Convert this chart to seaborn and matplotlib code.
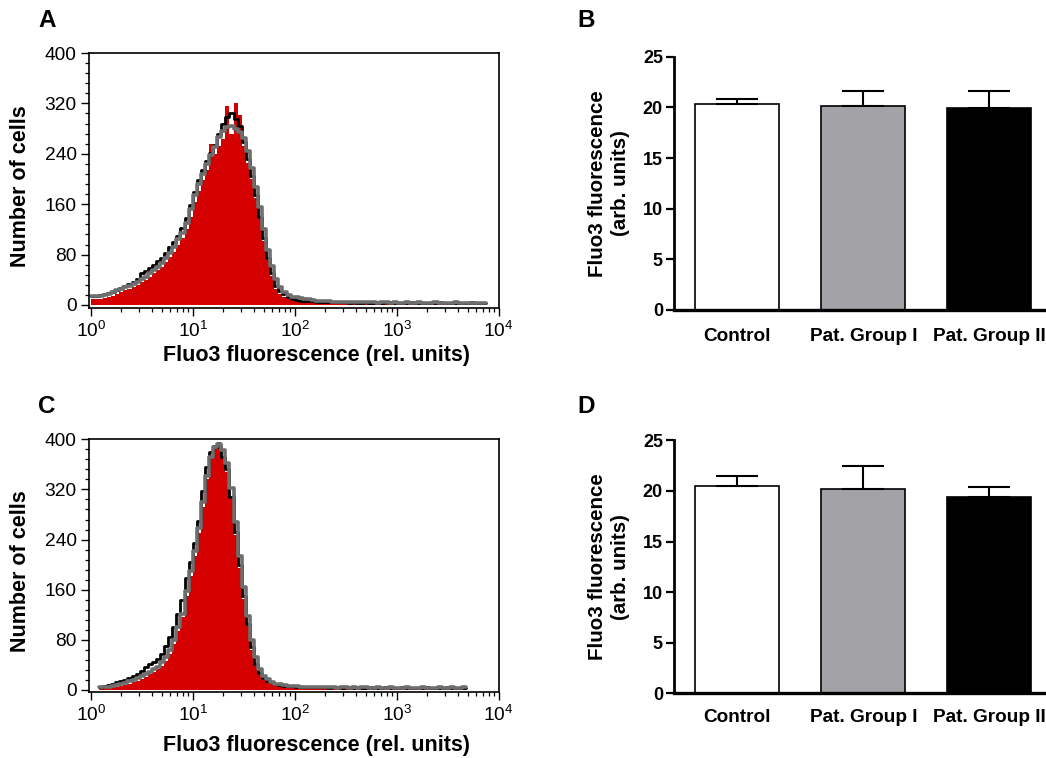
import numpy as np
import matplotlib
matplotlib.use("Agg")
import matplotlib.pyplot as plt
import seaborn as sns
from matplotlib.ticker import MultipleLocator, LogLocator, NullFormatter

# ---------------------------------------------------------------------------
# Flow-cytometry histograms (counts per log-spaced channel, 0.04 decade bins)
# ---------------------------------------------------------------------------
BIN_STEP = 0.04

# Panel A: first bin starts at 10^0
a_log_start = 0.0
a_red = [9, 9, 10, 11, 13, 15, 18, 20, 23, 25,
         28, 32, 36, 40, 45, 50, 55, 61, 68, 76,
         84, 95, 106, 120, 140, 163, 181, 198, 214, 256,
         240, 252, 264, 316, 272, 321, 302, 252, 226, 200,
         170, 136, 102, 71, 46, 26, 17, 12, 9, 7,
         6, 5, 5, 4, 4, 4, 3, 3, 3, 3,
         3, 3, 2, 3, 3, 2, 3, 3, 2, 3,
         3, 2, 3, 3, 3, 2, 3, 3, 3, 2,
         3, 3, 2, 3, 3, 3, 3, 2, 3, 3,
         3, 3, 2, 3, 3, 3, 3]
a_black = [15, 14, 16, 17, 19, 21, 24, 27, 30, 33,
           37, 42, 50, 54, 58, 64, 70, 74, 82, 92,
           100, 110, 122, 138, 158, 180, 198, 214, 228, 242,
           254, 272, 288, 298, 304, 296, 284, 258, 232, 205,
           175, 140, 106, 75, 50, 30, 22, 17, 13, 10,
           8, 7, 7, 6, 6, 5, 5, 5, 4, 4,
           4, 4, 4, 3, 4, 3, 3, 4, 3, 3,
           3, 3, 4, 3, 3, 3, 3, 3, 4, 3,
           3, 3, 3, 3, 3, 4, 3, 3, 3, 3,
           3, 3, 3, 4, 3, 3, 3]
a_gray = [14, 14, 15, 16, 18, 20, 23, 25, 28, 30,
          33, 37, 41, 45, 50, 55, 60, 66, 74, 83,
          92, 104, 115, 130, 152, 175, 192, 208, 224, 238,
          250, 266, 276, 283, 284, 280, 274, 265, 245, 218,
          188, 155, 120, 88, 62, 42, 28, 20, 16, 13,
          12, 11, 10, 9, 8, 7, 7, 6, 6, 5,
          5, 5, 5, 4, 4, 5, 4, 4, 4, 4,
          3, 4, 4, 3, 4, 3, 3, 4, 3, 3,
          4, 3, 3, 3, 4, 3, 3, 3, 3, 4,
          3, 3, 3, 3, 3, 3, 3]

# Panel C: first bin starts at 10^0.08
c_log_start = 0.08
c_red = [3, 3, 4, 4, 5, 6, 8, 10, 12, 15,
         18, 21, 25, 29, 33, 39, 47, 58, 74, 94,
         116, 150, 182, 214, 250, 292, 336, 370, 386, 396,
         372, 348, 304, 248, 195, 145, 102, 64, 38, 24,
         16, 12, 9, 7, 6, 5, 5, 4, 4, 4,
         3, 4, 3, 3, 3, 4, 3, 3, 3, 3,
         3, 3, 4, 3, 3, 3, 3, 3, 3, 4,
         3, 3, 3, 3, 3, 3, 4, 3, 3, 3,
         3, 3, 3, 3, 4, 3, 3, 3, 3, 3]
c_black = [5, 6, 8, 10, 12, 14, 16, 19, 22, 26,
           31, 37, 41, 45, 50, 58, 70, 84, 100, 122,
           143, 178, 205, 235, 270, 318, 356, 380, 390, 388,
           372, 352, 308, 252, 200, 150, 106, 69, 42, 27,
           19, 15, 12, 9, 8, 7, 6, 6, 5, 5,
           5, 4, 4, 4, 5, 4, 3, 4, 4, 3,
           4, 3, 3, 4, 3, 3, 4, 3, 3, 3,
           4, 3, 3, 3, 4, 3, 3, 3, 3, 3,
           4, 3, 3, 3, 3, 4, 3, 3, 3, 3]
c_gray = [4, 5, 5, 6, 8, 9, 11, 14, 16, 19,
          22, 25, 29, 33, 37, 44, 52, 64, 80, 100,
          122, 158, 190, 222, 258, 300, 342, 372, 388, 392,
          383, 362, 322, 268, 214, 164, 118, 80, 52, 33,
          23, 17, 13, 10, 9, 8, 7, 6, 6, 5,
          5, 5, 4, 5, 4, 4, 4, 4, 3, 4,
          4, 3, 4, 3, 4, 4, 3, 3, 4, 3,
          3, 4, 3, 3, 3, 4, 3, 3, 3, 4,
          3, 3, 3, 4, 3, 3, 4, 3, 3, 4]

hist_y_ticks = [0, 80, 160, 240, 320, 400]

# ---------------------------------------------------------------------------
# Mean Fluo3 fluorescence per group (mean + SEM)
# ---------------------------------------------------------------------------
groups = ["Control", "Pat. Group I", "Pat. Group II"]
b_means = [20.3, 20.15, 19.95]
b_sem = [0.55, 1.5, 1.65]
d_means = [20.5, 20.22, 19.37]
d_sem = [0.94, 2.24, 1.05]
bar_y_ticks = [0, 5, 10, 15, 20, 25]

RED = "#d40000"
GRAY_LINE = "#6e6e6e"
bar_colors = ["#ffffff", "#a3a2a7", "#000000"]

sns.set_theme(style="ticks")
plt.rcParams["font.family"] = ["Liberation Sans", "DejaVu Sans"]
plt.rcParams["mathtext.fontset"] = "custom"
plt.rcParams["mathtext.rm"] = "Liberation Sans"
plt.rcParams["mathtext.it"] = "Liberation Sans:italic"
plt.rcParams["mathtext.bf"] = "Liberation Sans:bold"
plt.rcParams["axes.edgecolor"] = "black"
plt.rcParams["xtick.color"] = "black"
plt.rcParams["ytick.color"] = "black"
plt.rcParams["text.color"] = "black"
plt.rcParams["axes.labelcolor"] = "black"

W, H = 1046, 758
fig = plt.figure(figsize=(W / 100, H / 100), dpi=100)


def px_axes(left, top, right, bottom):
    return fig.add_axes([left / W, 1 - bottom / H, (right - left) / W, (bottom - top) / H])


def draw_histogram(ax, log_start, red, black, gray, ylow, xlabel_y):
    n = len(red)
    centers = 10 ** (log_start + BIN_STEP * (np.arange(n) + 0.5))
    bin_kws = dict(binwidth=BIN_STEP, binrange=(log_start, log_start + n * BIN_STEP),
                   log_scale=True, element="step", ax=ax)
    sns.histplot(x=centers, weights=red, fill=True, color=RED, alpha=1,
                 linewidth=0, **bin_kws)
    sns.histplot(x=centers, weights=black, fill=False, color="black",
                 linewidth=2.0, **bin_kws)
    sns.histplot(x=centers, weights=gray, fill=False, color=GRAY_LINE,
                 linewidth=2.6, **bin_kws)

    ax.set_xlim(10 ** -0.017, 10 ** 4)
    ax.set_ylim(ylow, 400)
    ax.set_yticks(hist_y_ticks)
    ax.yaxis.set_minor_locator(MultipleLocator(16))
    ax.xaxis.set_major_locator(LogLocator(base=10, numticks=10))
    ax.xaxis.set_minor_locator(LogLocator(base=10, subs=np.arange(2, 10), numticks=40))
    ax.xaxis.set_minor_formatter(NullFormatter())
    for sp in ax.spines.values():
        sp.set_visible(True)
        sp.set_linewidth(1.2)
        sp.set_color("black")
    ax.tick_params(which="major", direction="out", length=6, width=1.0,
                   labelsize=13.8, pad=3)
    ax.tick_params(which="minor", direction="out", length=3, width=0.9)
    ax.set_ylabel("Number of cells", fontsize=15.5, fontweight="bold")
    ax.yaxis.set_label_coords(-0.142, 0.478)
    ax.set_xlabel("Fluo3 fluorescence (rel. units)", fontsize=15.5, fontweight="bold")
    ax.xaxis.set_label_coords(0.556, xlabel_y)
    ax.xaxis.label.set_verticalalignment("top")
    ax.grid(False)


def draw_bars(ax, means, sem, label_pad):
    sns.barplot(x=groups, y=means, hue=groups, palette=bar_colors, legend=False,
                width=0.667, edgecolor="black", linewidth=1.2, saturation=1, ax=ax)
    ax.errorbar(range(len(groups)), means, yerr=[np.zeros(len(groups)), sem],
                fmt="none", ecolor="black", elinewidth=1.5, capsize=14.8,
                capthick=1.5, zorder=1)
    ax.set_xlim(-0.5, 2.5)
    ax.set_ylim(0, 25)
    ax.set_yticks(bar_y_ticks, labels=[str(t) for t in bar_y_ticks],
                  fontweight="bold", fontsize=13)
    ax.set_xticks(range(len(groups)), labels=groups, fontweight="bold", fontsize=13.7)
    sns.despine(ax=ax)
    ax.spines["left"].set_linewidth(2.0)
    ax.spines["bottom"].set_linewidth(2.4)
    ax.tick_params(axis="x", length=0, pad=label_pad)
    ax.tick_params(axis="y", direction="out", length=6, width=1.6, pad=2)
    ax.set_ylabel("Fluo3 fluorescence\n(arb. units)", fontsize=14.8,
                  fontweight="bold", linespacing=1.25)
    ax.yaxis.set_label_coords(-0.116, 0.5)
    ax.set_xlabel("")
    ax.grid(False)


ax_a = px_axes(89, 53, 498.7, 308)
draw_histogram(ax_a, a_log_start, a_red, a_black, a_gray, -4.8, -0.145)

ax_c = px_axes(89, 439.3, 498.7, 692)
draw_histogram(ax_c, c_log_start, c_red, c_black, c_gray, -3.2, -0.170)

ax_b = px_axes(674, 56.7, 1052.5, 310)
draw_bars(ax_b, b_means, b_sem, 13)

ax_d = px_axes(674, 440.3, 1052.5, 693.3)
draw_bars(ax_d, d_means, d_sem, 11)

for letter, x, y in [("A", 38, 27), ("B", 577, 27), ("C", 38, 413), ("D", 577, 413)]:
    fig.text(x / W, 1 - y / H, letter, fontsize=17.5, fontweight="bold",
             ha="left", va="baseline")

fig.savefig("out.png", dpi=100)
